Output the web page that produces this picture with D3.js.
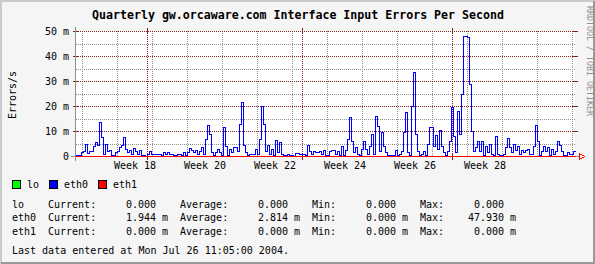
<!DOCTYPE html>
<html>
<head>
<meta charset="utf-8">
<script src="https://cdn.jsdelivr.net/npm/d3@7"></script>
<style>
  body { margin: 0; background: #f5f5f5; }
  svg { display: block; }
  text { font-family: "DejaVu Sans Mono", monospace; fill: #000; }
</style>
</head>
<body>
<svg id="chart"></svg>
<script>
// eth0 input errors per second (milli-units), one value every 9.6 hours
const eth0Values = [
  0.5,0.5,0.5,1.5,2,4.8,1.2,2,2,4,
  5.6,4.5,13.6,7.5,1,5,2,2.5,0.5,0.5,
  1.5,2,3.5,4.5,7.5,3,1.5,2.5,1,3.2,
  2,1,2.5,0.5,0.5,0,1,2,1,1,
  1,1,1,0.5,1.5,0.8,1.5,1,1,0.5,
  0.5,1,1,0.5,1.5,0.5,1.5,3.2,2.5,1.5,
  2.5,1,2,3.5,1,6.8,12.3,8.8,1.5,0.5,
  1.5,3,1.5,0.5,11.6,4,0.5,3,1.5,3.5,
  3.5,2,12.8,21.6,4.5,1.5,0.5,1,0.7,1,
  3,1,7,20,13,2,4.5,1,3,0.5,
  6.5,1.5,5.5,1,0.5,0.5,1,0.3,0.3,0,
  1.2,1.2,0.8,0.8,0.8,0.5,4.4,2,1,2,
  1.5,1.5,2,1,2.5,0.5,0.5,2,2.5,2.5,
  1,2,0.5,4,0.5,2.5,7,15.5,6,1.5,
  3.5,1,0.5,3,6,3,1,4,8.8,1,
  16,12,2,9.8,4,1.5,0.5,0.3,0.3,0.3,
  2.5,0.5,1,2,9.6,17.6,1.5,0.5,20,33.5,
  8.8,2,0.5,1,2,0.5,5,11.5,11.5,4,
  8.5,3,10.5,4,1.5,0.5,2,6,19.5,8,
  1.5,18,9,25,48,47.93,47.5,29,10,2,
  3.5,5.9,2,6,0.5,4,1.5,5,1,0.5,
  7.9,1,0.3,0.3,1,3.5,7.2,3.5,1.5,5,
  2.5,4,1,2.5,1.5,2.5,3,1,1,4,
  12.3,6,0.3,2,4,2,3.5,0.5,3,1,
  2,6,4.5,2,0.5,0.3,1.5,0.8,1,1.944
];
const loValues = [0, 0];
const eth1Values = [0, 0];

const periodStart = Date.UTC(2004, 3, 16, 14, 24);
const periodEnd = Date.UTC(2004, 6, 25, 14, 24);

const yTicks = [0, 10, 20, 30, 40, 50];
const yTickLabels = ['0', '10 m', '20 m', '30 m', '40 m', '50 m'];
const yMinorTicks = [5, 15, 25, 35, 45];

const seriesNames = ['lo', 'eth0', 'eth1'];
const statCurrent = ['0.000', '1.944', '0.000'];
const statAverage = ['0.000', '2.814', '0.000'];
const statMin = ['0.000', '0.000', '0.000'];
const statMax = ['0.000', '47.930', '0.000'];
const statUnit = ['', 'm', 'm'];

const titleText = 'Quarterly gw.orcaware.com Interface Input Errors Per Second';
const yLabel = 'Errors/s';
const lastUpdate = 'Last data entered at Mon Jul 26 11:05:00 2004.';

const colors = ['#00ff00', '#0000ff', '#ff0000'];
const gridColor = '#8f8f8f', majorColor = '#821e1e';

const W = 595, H = 264;
const x0 = 75, x1 = 575, yTop = 31, yBot = 156;

const svg = d3.select('#chart').attr('width', W).attr('height', H);

// frame
svg.append('rect').attr('width', W).attr('height', H).attr('fill', '#f5f5f5');
svg.append('rect').attr('x', 0).attr('y', 0).attr('width', W).attr('height', 2).attr('fill', '#cbcbcb');
svg.append('rect').attr('x', 0).attr('y', 0).attr('width', 2).attr('height', H).attr('fill', '#cbcbcb');
svg.append('rect').attr('x', W - 2).attr('y', 1).attr('width', 2).attr('height', H - 1).attr('fill', '#999999');
svg.append('rect').attr('x', 1).attr('y', H - 2).attr('width', W - 1).attr('height', 2).attr('fill', '#999999');

// canvas
svg.append('rect').attr('x', x0).attr('y', yTop).attr('width', x1 - x0).attr('height', yBot - yTop).attr('fill', '#fff');

const xScale = d3.scaleUtc().domain([periodStart, periodEnd]).range([x0 + 0.5, x1 + 0.5]);
const yScale = d3.scaleLinear().domain([0, 50]).range([yBot + 0.5, yTop + 0.5]);

const g = svg.append('g').attr('shape-rendering', 'crispEdges');

// minor horizontal grid
g.selectAll('.hmin').data(yMinorTicks).enter().append('line')
  .attr('x1', x0 + 1).attr('x2', x1)
  .attr('y1', d => yScale(d)).attr('y2', d => yScale(d))
  .attr('stroke', gridColor).attr('stroke-dasharray', '1,1');

// minor vertical grid (weeks starting Sunday)
const sundays = d3.utcSunday.range(periodStart, periodEnd);
g.selectAll('.vmin').data(sundays).enter().append('line')
  .attr('x1', d => Math.floor(xScale(d)) + 0.5).attr('x2', d => Math.floor(xScale(d)) + 0.5)
  .attr('y1', yTop).attr('y2', yBot)
  .attr('stroke', gridColor).attr('stroke-dasharray', '1,1');

// major horizontal grid
yTicks.forEach(v => {
  const y = yScale(v);
  g.append('line').attr('x1', x0 - 2).attr('x2', x0 + 3).attr('y1', y).attr('y2', y).attr('stroke', majorColor);
  g.append('line').attr('x1', x1 - 2).attr('x2', x1 + 3).attr('y1', y).attr('y2', y).attr('stroke', majorColor);
  g.append('line').attr('x1', x0 + 3).attr('x2', x1 - 2).attr('y1', y).attr('y2', y)
    .attr('stroke', majorColor).attr('stroke-dasharray', '1,1');
});

// major vertical grid (months)
const months = d3.utcMonth.range(periodStart, periodEnd);
months.forEach(d => {
  const x = Math.floor(xScale(d)) + 0.5;
  g.append('line').attr('x1', x).attr('x2', x).attr('y1', yTop - 3).attr('y2', yTop + 2).attr('stroke', majorColor);
  g.append('line').attr('x1', x).attr('x2', x).attr('y1', yBot - 2).attr('y2', yBot + 4).attr('stroke', majorColor);
  g.append('line').attr('x1', x).attr('x2', x).attr('y1', yTop + 2).attr('y2', yBot - 2)
    .attr('stroke', majorColor).attr('stroke-dasharray', '1,1');
});

// axes
g.append('line').attr('x1', x0 - 4).attr('x2', x1 + 4).attr('y1', yBot + 0.5).attr('y2', yBot + 0.5).attr('stroke', gridColor);
g.append('line').attr('x1', x0 + 0.5).attr('x2', x0 + 0.5).attr('y1', yBot + 5).attr('y2', yTop - 4).attr('stroke', gridColor);

// series
function toPoints(values) {
  const step = (periodEnd - periodStart) / values.length;
  const pts = values.map((v, i) => ({ t: periodStart + i * step, v: v }));
  pts.push({ t: periodEnd, v: values[values.length - 1] });
  return pts;
}
const line = d3.line()
  .x(d => xScale(d.t))
  .y(d => yScale(d.v))
  .curve(d3.curveStepAfter);

[loValues, eth0Values, eth1Values].forEach((vals, i) => {
  g.append('path').datum(toPoints(vals))
    .attr('d', line)
    .attr('fill', 'none')
    .attr('stroke', colors[i])
    .attr('stroke-width', 1);
});

// x arrow
g.append('path')
  .attr('d', `M${x1 + 4.5},${yBot - 2.5} L${x1 + 4.5},${yBot + 3.5} L${x1 + 9.5},${yBot + 0.5} Z`)
  .attr('fill', 'none').attr('stroke', '#ff0000');

// y tick labels
svg.selectAll('.ylab').data(yTicks).enter().append('text')
  .attr('x', 69).attr('y', d => yScale(d) + 3.5)
  .attr('text-anchor', 'end').style('font-size', '10px')
  .text((d, i) => yTickLabels[i]);

// week labels, every second ISO week, only where a whole label week fits
const weekFmt = d3.utcFormat('%V');
sundays.forEach(d => {
  const mid = d3.utcHour.offset(d, 84);
  const wk = +weekFmt(mid);
  if (wk % 2 !== 0 || xScale(mid) > x1 - 30) return;
  svg.append('text')
    .attr('x', xScale(mid)).attr('y', 168.5)
    .attr('text-anchor', 'middle').style('font-size', '10px')
    .text('Week ' + weekFmt(mid));
});

// title
svg.append('text').attr('x', 298).attr('y', 19)
  .attr('text-anchor', 'middle').style('font-size', '11.6px').style('font-weight', 'bold')
  .text(titleText);

// y axis label
svg.append('text').attr('transform', 'translate(16,95) rotate(-90)')
  .attr('text-anchor', 'middle').style('font-size', '10px')
  .text(yLabel);

// watermark
svg.append('text').attr('transform', 'translate(587,6) rotate(90)')
  .style('font-size', '8.3px').style('fill', '#8f8f8f')
  .text('RRDTOOL / TOBI OETIKER');

// legend
let lx = 12;
seriesNames.forEach((name, i) => {
  svg.append('rect').attr('x', lx + 0.5).attr('y', 180.5).attr('width', 8).attr('height', 8)
    .attr('fill', colors[i]).attr('stroke', '#000').attr('shape-rendering', 'crispEdges');
  svg.append('text').attr('x', lx + 15).attr('y', 188).style('font-size', '10px').text(name);
  lx += name.length * 6 + 25;
});

// statistics rows (6px monospace columns starting at x=12)
const col = c => 12 + c * 6;
seriesNames.forEach((name, i) => {
  const y = 208 + i * 13.3;
  const row = svg.append('g').style('font-size', '10px');
  const put = (c, s, anchor) => row.append('text').attr('x', col(c)).attr('y', y)
    .attr('text-anchor', anchor || 'start').text(s);
  put(0, name);
  put(6, 'Current:');
  put(24, statCurrent[i], 'end');
  put(25, statUnit[i]);
  put(28, 'Average:');
  put(46, statAverage[i], 'end');
  put(47, statUnit[i]);
  put(50, 'Min:');
  put(64, statMin[i], 'end');
  put(65, statUnit[i]);
  put(68, 'Max:');
  put(82, statMax[i], 'end');
  put(83, statUnit[i]);
});

svg.append('text').attr('x', 12).attr('y', 254).style('font-size', '10px').text(lastUpdate);
</script>
</body>
</html>
